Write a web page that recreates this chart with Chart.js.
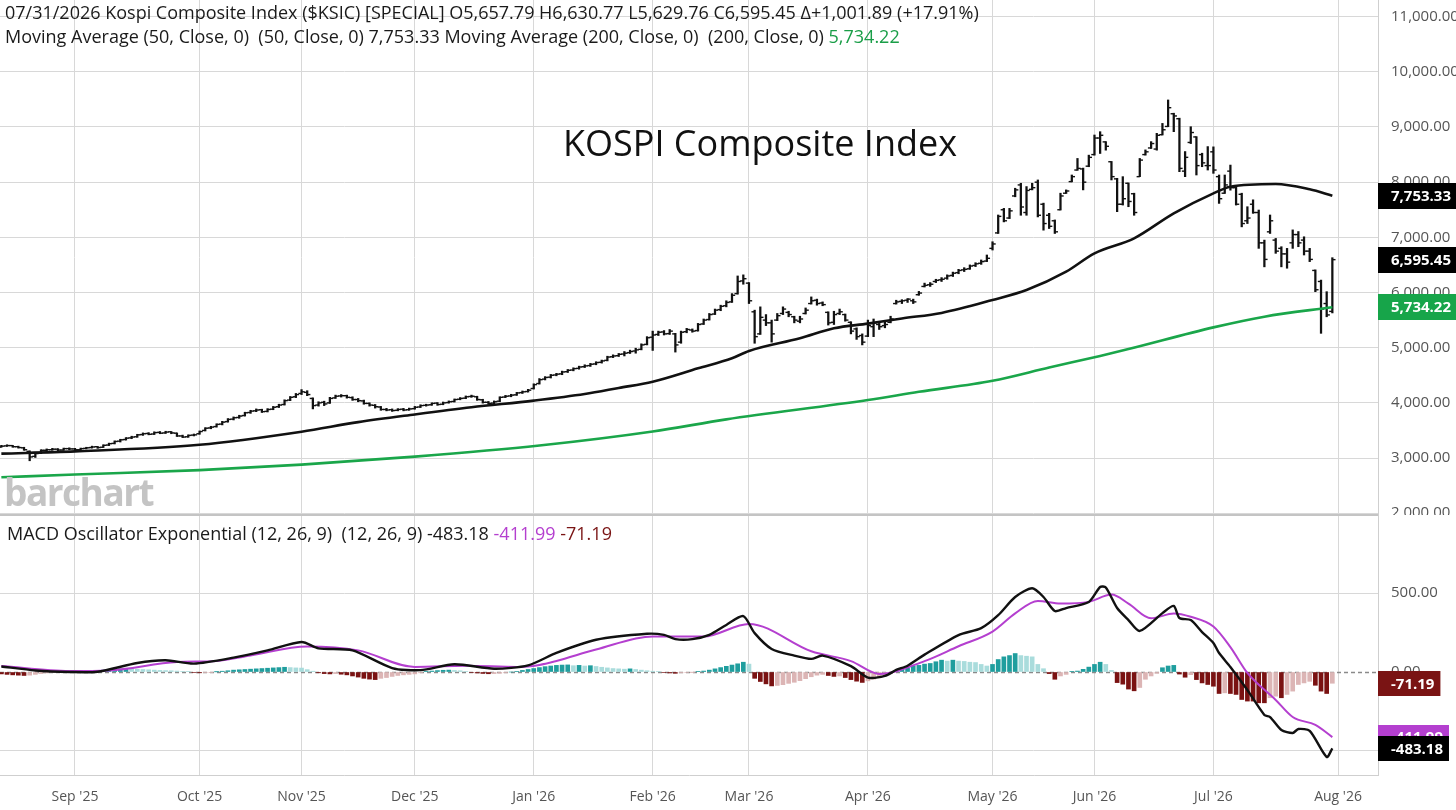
<!DOCTYPE html>
<html><head><meta charset="utf-8">
<script src="https://cdn.jsdelivr.net/npm/chart.js@4.4.1/dist/chart.umd.min.js"></script>
<style>
html,body{margin:0;padding:0;background:#fff;}
body{width:1456px;height:810px;position:relative;overflow:hidden;font-family:"Open Sans",sans-serif;color:#1a1a1a;}
.wrap{position:absolute;left:0;width:1456px;}
.hdr{position:absolute;left:5px;font-size:18px;white-space:nowrap;color:#1a1a1a;}
</style></head><body>
<div class="wrap" style="top:0;height:515px"><canvas id="pc"></canvas></div>
<div class="wrap" style="top:515px;height:295px"><canvas id="mc"></canvas></div>
<div style="position:absolute;left:0;top:514px;width:1378px;height:2px;background:#c4c4c4"></div>
<div class="hdr" style="top:0px">07/31/2026 Kospi Composite Index ($KSIC) [SPECIAL] O5,657.79 H6,630.77 L5,629.76 C6,595.45 &Delta;+1,001.89 (+17.91%)</div>
<div class="hdr" style="top:24px">Moving Average (50, Close, 0)&nbsp; (50, Close, 0) 7,753.33 Moving Average (200, Close, 0)&nbsp; (200, Close, 0) <span style="color:#1a9e48">5,734.22</span></div>
<div style="position:absolute;left:563px;top:118px;font-size:36px;color:#111;white-space:nowrap">KOSPI Composite Index</div>
<div style="position:absolute;left:4px;top:466px;font-size:37px;font-weight:700;color:#c4c4c4;letter-spacing:-1.5px">barchart</div>
<div class="hdr" style="left:7px;top:521px">MACD Oscillator Exponential (12, 26, 9)&nbsp; (12, 26, 9) -483.18 <span style="color:#b43fcf">-411.99</span> <span style="color:#7a1414">-71.19</span></div>
<script>
// ---------- DATA ----------
const monthTickIdx = [13,35,53,73,94,115,132,153,175,193,214,236];
const monthTickLabels = ["Sep '25","Oct '25","Nov '25","Dec '25","Jan '26","Feb '26","Mar '26","Apr '26","May '26","Jun '26","Jul '26","Aug '26"];
const priceTicks = [2000,3000,4000,5000,6000,7000,8000,9000,10000,11000];
const macdTicks = [-500,0,500];

const opens = [
3200,3220,3225,3205,3185,3120,3030,3090,3140,3150,3160,3145,3170,
3165,3150,3175,3190,3205,3195,3235,3265,3305,3335,3365,3385,3425,3445,3435,3465,3455,3475,3450,3400,3385,3415,
3440,3500,3545,3570,3615,3660,3705,3735,3770,3825,3855,3875,3845,3885,3930,3970,4050,4110,
4170,4190,4080,3960,4010,4000,4090,4125,4130,4095,4060,4035,3990,3955,3925,3880,3875,3865,3885,3875,
3895,3925,3955,3965,3995,3975,4005,4025,4065,4085,4115,4110,4055,4010,3995,4030,4105,4125,4145,4185,4205,
4260,4350,4430,4465,4505,4525,4565,4595,4625,4655,4675,4705,4735,4770,4835,4855,4885,4910,4940,4970,5060,
5190,5240,5285,5255,5250,5100,5290,5320,5310,5430,5510,5610,5690,5760,5830,5980,6210,
6170,5650,5250,5500,5450,5500,5620,5640,5560,5480,5620,5800,5860,5810,5640,5460,5620,5600,5460,5340,5220,
5210,5380,5420,5400,5460,5800,5840,5860,5850,5960,6110,6140,6200,6230,6260,6310,6360,6410,6430,6490,6530,6570,
6800,7080,7500,7350,7750,7950,7450,7870,8000,7600,7400,7300,7500,7800,8010,8220,8240,8290,
8500,8800,8730,8370,8060,7600,7980,7790,8100,8500,8620,8600,8860,9010,9240,9150,8200,8720,8820,8500,8300,
8550,8100,7800,8200,7900,7780,7300,7600,7450,6900,7100,6950,6800,6700,6900,7050,6950,6750,6400,6200,5800,5657.79];
const highs = [
3230,3240,3230,3215,3195,3130,3090,3150,3165,3175,3170,3180,3185,
3175,3180,3195,3215,3210,3240,3270,3310,3340,3370,3395,3430,3455,3460,3475,3480,3485,3480,3455,3415,3420,3435,
3490,3550,3575,3620,3665,3715,3745,3775,3830,3865,3890,3885,3895,3935,3975,4055,4115,4170,
4240,4220,4090,4020,4030,4100,4140,4150,4140,4110,4080,4050,4000,3970,3935,3900,3890,3895,3900,3905,
3935,3965,3975,4000,4005,4015,4035,4070,4095,4125,4140,4120,4065,4025,4035,4110,4135,4155,4190,4215,4245,
4345,4440,4475,4515,4535,4575,4605,4635,4665,4690,4715,4745,4775,4845,4870,4895,4930,4955,4990,5070,5200,
5300,5300,5310,5330,5260,5300,5350,5340,5440,5520,5620,5700,5770,5850,5980,6300,6320,
6180,5680,5740,5600,5500,5620,5740,5660,5570,5570,5720,5920,5880,5830,5650,5660,5700,5610,5470,5360,5250,
5500,5520,5440,5460,5570,5860,5870,5890,5880,6020,6170,6180,6240,6270,6320,6370,6420,6450,6500,6540,6590,6680,
6920,7405,7525,7525,7890,7980,7920,7980,8040,7620,7435,7315,7800,7860,8130,8430,8255,8490,
8855,8915,8735,8375,8070,8100,7985,7800,8430,8585,8735,8885,9065,9490,9250,9160,8555,9005,8825,8525,8645,
8640,8130,8130,8310,7920,7800,7555,7680,7495,6950,7405,6980,6830,6800,7135,7105,7010,6800,6410,6225,6015,6630.77];
const lows = [
3195,3210,3195,3180,3140,2950,3010,3080,3125,3140,3130,3140,3150,
3135,3145,3165,3180,3175,3190,3225,3255,3290,3325,3350,3375,3410,3420,3425,3440,3445,3440,3390,3370,3375,3400,
3430,3490,3530,3560,3600,3650,3690,3720,3760,3810,3840,3825,3835,3875,3915,3960,4040,4095,
4150,4130,3890,3940,3950,3990,4080,4105,4085,4045,4020,3975,3940,3905,3865,3855,3845,3855,3855,3865,
3885,3915,3940,3955,3955,3965,3995,4015,4055,4075,4100,4045,3995,3975,3985,4020,4095,4110,4135,4170,4195,
4250,4340,4415,4450,4490,4510,4550,4580,4610,4640,4660,4690,4720,4760,4820,4840,4850,4895,4900,4960,5050,
4950,5220,5230,5240,4920,5080,5270,5280,5300,5420,5500,5600,5670,5740,5820,5970,6150,
5800,5080,5240,5400,5100,5490,5600,5560,5450,5450,5610,5790,5770,5760,5410,5420,5600,5480,5250,5150,5050,
5200,5200,5330,5360,5450,5790,5800,5820,5800,5950,6100,6110,6180,6200,6240,6290,6340,6380,6420,6470,6510,6560,
6770,7070,7280,7340,7735,7400,7400,7860,7370,7130,7160,7070,7495,7795,8005,8215,7860,8280,
8490,8520,8580,8040,7465,7585,7555,7400,8100,8490,8610,8580,8855,9005,8915,8190,8100,8700,8130,8280,8220,
8160,7615,7795,7855,7585,7190,7250,7435,6800,6465,7070,6710,6465,6440,6800,6830,6680,6560,6015,5260,5560,5629.76];
const closes = [
3215,3225,3205,3190,3150,3020,3080,3140,3150,3160,3145,3170,3165,
3150,3170,3185,3200,3190,3230,3260,3300,3330,3360,3380,3420,3440,3430,3460,3450,3470,3455,3400,3380,3410,3420,
3480,3540,3560,3610,3650,3700,3730,3760,3820,3850,3870,3840,3880,3920,3960,4040,4100,4150,
4200,4150,3950,4000,3980,4080,4120,4130,4100,4060,4040,3990,3960,3930,3880,3870,3860,3880,3870,3890,
3920,3950,3960,3990,3970,4000,4020,4060,4080,4110,4120,4060,4010,3990,4020,4100,4120,4140,4180,4200,4230,
4330,4420,4460,4500,4520,4560,4590,4620,4650,4670,4700,4730,4760,4830,4850,4880,4900,4930,4960,5050,5180,
5230,5280,5250,5300,5050,5280,5330,5300,5420,5500,5600,5680,5750,5820,5950,6200,6250,
5850,5200,5550,5450,5250,5580,5700,5600,5500,5520,5680,5850,5800,5780,5450,5600,5650,5500,5300,5200,5100,
5400,5450,5380,5420,5520,5830,5850,5880,5830,5990,6130,6150,6220,6240,6300,6350,6400,6420,6480,6520,6560,6620,
6880,7380,7300,7480,7860,7550,7850,7900,7400,7250,7200,7100,7750,7840,8100,8250,8000,8450,
8800,8850,8650,8100,7600,7700,7650,7450,8400,8550,8700,8850,8950,9350,9200,8250,8450,8900,8300,8350,8300,
8220,7700,7950,7900,7600,7250,7350,7450,6900,6600,7300,6750,6700,6550,7050,6900,6750,6600,6050,5700,5593.56,6595.45];

const ma50Idx = [0,13,35,53,63,73,83,94,103,109,115,123,129,132,141,147,153,159,166,175,181,188,193,200,207,214,217,225,231,235];
const ma50Val = [3080,3120,3240,3477,3650,3790,3920,4040,4160,4270,4383,4625,4807,4940,5170,5351,5436,5530,5630,5864,6045,6378,6710,6982,7435,7797,7918,7966,7870,7753.33];
const ma200Idx = [0,13,35,53,73,95,115,128,153,162,175,185,194,199,214,223,235];
const ma200Val = [2650,2700,2780,2880,3025,3226,3480,3700,4050,4200,4400,4640,4850,4975,5368,5562,5734.22];

const macdIdx = [0,6,12,17,24,29,34,41,47,53,56,62,69,74,80,87,93,98,105,114,117,119,122,125,128,131,133,136,140,143,145,150,153,156,158,160,163,169,173,176,179,182,184,186,188,192,194,195,197,199,201,205,207,208,210,212,214,215,217,220,223,224,226,228,229,231,234,235];
const macdVal = [35,10,0,2,57,74,53,91,137,190,150,137,25,12,49,21,42,121,204,242,235,208,208,235,298,354,246,146,104,83,104,37,-35,-25,13,40,110,234,278,360,475,530,475,386,405,443,538,535,405,329,260,373,418,342,329,253,184,120,32,-114,-272,-285,-367,-386,-361,-373,-538,-483.18];
const signalIdx = [0,12,19,31,38,44,54,63,73,82,91,95,98,105,115,124,132,143,150,155,163,169,175,179,183,187,192,196,199,203,207,210,214,217,220,225,228,232,235];
const signalVal = [38,6,10,63,70,105,162,137,32,40,32,45,70,142,225,225,304,131,69,-12,69,163,256,371,450,433,444,490,433,340,371,350,288,158,-6,-177,-285,-335,-411.99];
const histVals = [
-12,-15,-18,-20,-22,-20,-15,-10,-6,-4,-3,-2,-1,
0,1,2,3,8,12,15,18,20,22,21,18,16,14,12,10,9,8,6,4,2,-3,
-5,-4,-2,1,5,8,12,14,16,18,20,22,24,26,28,30,28,26,
25,15,5,-5,-10,-12,-10,-14,-18,-25,-32,-40,-45,-48,-40,-35,-28,-22,-18,-15,
-12,-5,2,6,9,11,12,10,8,4,-3,-6,-9,-11,-10,-8,-5,0,4,10,16,
22,28,34,38,42,44,45,40,42,38,40,35,30,26,22,20,18,20,16,12,8,
5,2,-3,-6,-8,-5,-3,-1,2,6,12,20,28,36,44,52,62,
50,-40,-60,-75,-88,-85,-80,-72,-65,-55,-42,-30,-20,-15,-22,-28,-25,-35,-48,-58,-66,
-56,-45,-30,-18,-10,5,17,25,38,42,50,54,65,75,69,75,69,67,62,60,48,38,
48,79,96,104,117,104,100,96,48,21,-10,-46,-25,-15,2,6,17,31,
48,62,48,10,-67,-77,-108,-119,-98,-46,-25,-8,27,38,42,-13,-33,-17,-48,-69,-79,
-90,-136,-132,-136,-142,-174,-184,-184,-195,-195,-163,-153,-163,-142,-121,-79,-69,-59,-84,-121,-136,-71.19];

// ---------- CHARTS ----------
Chart.defaults.font.family = "'Open Sans', sans-serif";
Chart.defaults.color = '#555';
const X_MIN = -0.24, X_MAX = 243.06;
const GRID = '#d8d8d8';
const fmt = v => v.toLocaleString('en-US',{minimumFractionDigits:2, maximumFractionDigits:2});
const xy = (ix, vals) => ix.map((x,k)=>({x, y: vals[k]}));

function boxesPlugin(id, items, h){
  return { id, afterDraw(chart){
    const {ctx, chartArea, scales:{y}} = chart;
    ctx.save();
    ctx.font = 'bold 15px "Open Sans"';
    ctx.textBaseline = 'middle';
    items.forEach(it => {
      const py = y.getPixelForValue(it.v);
      const t = fmt(it.v);
      const w = ctx.measureText(t).width;
      ctx.fillStyle = it.bg;
      ctx.fillRect(chartArea.right, Math.round(py - h/2), 13 + w + 6, h);
      ctx.fillStyle = '#fff';
      ctx.fillText(t, chartArea.right + 13, py + 1);
    });
    ctx.restore();
  }};
}

function xScale(showLabels, h){
  return {
    type:'linear', min:X_MIN, max:X_MAX, offset:false,
    afterBuildTicks: s => { s.ticks = monthTickIdx.map(v => ({value:v})); },
    ticks:{display:showLabels, padding:14, font:{size:14}, color:'#555', autoSkip:false, maxRotation:0,
      callback:(v,i) => monthTickLabels[i]},
    grid:{color:GRID, drawTicks:false, offset:false},
    border:{display:showLabels, color:'#cfcfcf'},
    afterFit: s => { s.height = h; s.paddingLeft = 0; s.paddingRight = 0; }
  };
}
function yScale(min, max, ticks, gridColor){
  return {
    type:'linear', position:'right', min, max,
    afterBuildTicks: s => { s.ticks = ticks.map(v => ({value:v})); },
    ticks:{padding:13, font:{size:15}, color:'#555', callback: v => fmt(v)},
    grid:{color:gridColor, drawTicks:false},
    border:{display:true, color:'#cfcfcf'},
    afterFit: s => { s.width = 78; s.paddingTop = 0; s.paddingBottom = 0; }
  };
}

const idx = closes.map((_, i) => i);
new Chart(document.getElementById('pc'), {
  type:'bar',
  data:{ datasets:[
    {type:'line', data: xy(ma50Idx, ma50Val), borderColor:'#111', borderWidth:2.6, pointRadius:0, pointHoverRadius:0, cubicInterpolationMode:'monotone'},
    {type:'line', data: xy(ma200Idx, ma200Val), borderColor:'#1aa64a', borderWidth:2.6, pointRadius:0, pointHoverRadius:0, cubicInterpolationMode:'monotone'},
    {type:'bar', data: idx.map(i => ({x:i, y:[lows[i], highs[i]]})), backgroundColor:'#111', barThickness:1.6, grouped:false},
    {type:'scatter', data: idx.map(i => ({x:i-0.28, y:opens[i]})), pointStyle:'line', radius:1.6, hoverRadius:1.6, borderWidth:1.4, borderColor:'#111'},
    {type:'scatter', data: idx.map(i => ({x:i+0.28, y:closes[i]})), pointStyle:'line', radius:1.6, hoverRadius:1.6, borderWidth:1.4, borderColor:'#111'}
  ]},
  options:{
    responsive:true, maintainAspectRatio:false, animation:false,
    layout:{padding:0, autoPadding:false},
    plugins:{legend:{display:false}, tooltip:{enabled:false}},
    scales:{ x: xScale(false, 0), y: yScale(1967, 11302, priceTicks, GRID) }
  },
  plugins:[boxesPlugin('pbox', [
    {v: ma50Val[ma50Val.length-1], bg:'#000'},
    {v: closes[closes.length-1], bg:'#000'},
    {v: ma200Val[ma200Val.length-1], bg:'#17a54a'}
  ], 26)]
});

const TEAL='#1f9e9e', LTEAL='#a9dcdc', DRED='#7a1212', PINK='#dcb5b5';
const zeroLine = { id:'zeroLine', beforeDatasetsDraw(chart){
  const {ctx, chartArea:a, scales:{y}} = chart;
  const py = Math.round(y.getPixelForValue(0)) + 0.5;
  ctx.save(); ctx.strokeStyle='#8a8a8a'; ctx.lineWidth=1.3; ctx.setLineDash([4,3]);
  ctx.beginPath(); ctx.moveTo(a.left, py); ctx.lineTo(a.right, py); ctx.stroke(); ctx.restore();
}};
new Chart(document.getElementById('mc'), {
  type:'bar',
  data:{ datasets:[
    {type:'line', data: xy(macdIdx, macdVal), borderColor:'#111', borderWidth:2.4, pointRadius:0, pointHoverRadius:0, tension:0.25},
    {type:'line', data: xy(signalIdx, signalVal), borderColor:'#b43fcf', borderWidth:2, pointRadius:0, pointHoverRadius:0, cubicInterpolationMode:'monotone'},
    {type:'bar', data: idx.map(i => ({x:i, y:histVals[i]})), barThickness:4, grouped:false,
      backgroundColor: c => { const i=c.dataIndex, v=histVals[i], p = i>0 ? histVals[i-1] : v;
        if (v >= 0) return v >= p ? TEAL : LTEAL; return v <= p ? DRED : PINK; } }
  ]},
  options:{
    responsive:true, maintainAspectRatio:false, animation:false,
    layout:{padding:0, autoPadding:false},
    plugins:{legend:{display:false}, tooltip:{enabled:false}},
    scales:{ x: xScale(true, 35),
      y: yScale(-652, 994, macdTicks, c => (c.tick && c.tick.value === 0) ? 'rgba(0,0,0,0)' : GRID) }
  },
  plugins:[zeroLine, boxesPlugin('mbox', [
    {v: histVals[histVals.length-1], bg:'#7a1414'},
    {v: signalVal[signalVal.length-1], bg:'#b43fcf'},
    {v: macdVal[macdVal.length-1], bg:'#000'}
  ], 25)]
});
</script>
</body></html>
